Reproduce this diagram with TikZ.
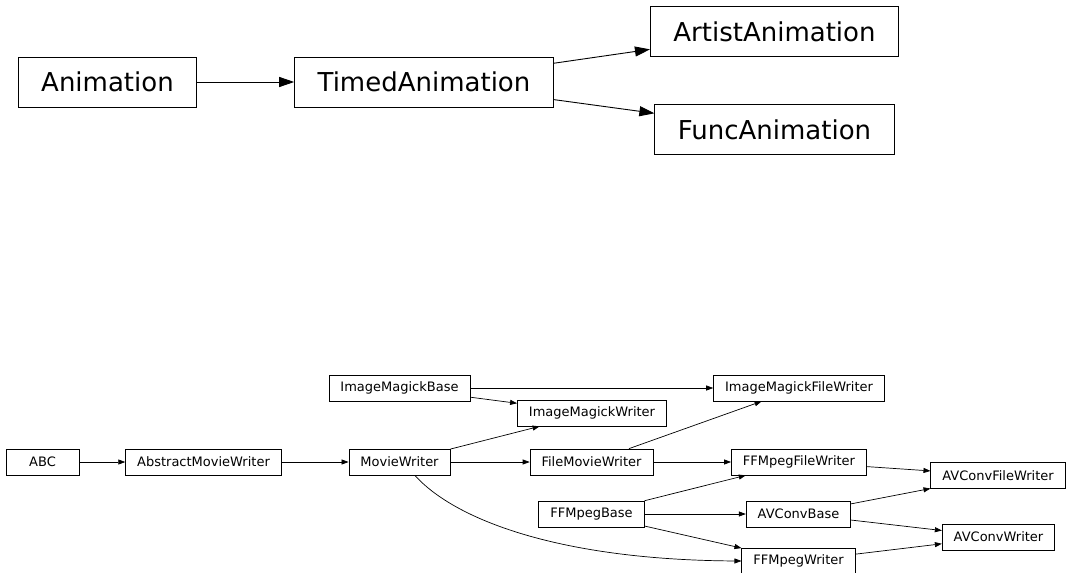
\documentclass[tikz,border=0pt]{standalone}
\usepackage{fontspec}
\setmainfont{DejaVu Sans}
\usetikzlibrary{arrows.meta}

\begin{document}
\begin{tikzpicture}[x=1pt, y=-1pt,
	bigbox/.style={draw, line width=0.9pt, font=\fontsize{26}{30}\selectfont, minimum height=50pt, inner xsep=23pt},
	smallbox/.style={draw, line width=0.7pt, font=\fontsize{13}{15}\selectfont, minimum height=26pt, minimum width=73pt, inner xsep=11.5pt},
	bigarrow/.style={-{Triangle[length=15pt,width=10pt]}, line width=0.9pt},
	smallarrow/.style={-{Triangle[length=7pt,width=5pt]}, line width=0.7pt}]
	\clip (0,0) rectangle (1066,573);

	% animation classes
	\node[bigbox] (anim) at (107.5,82) {Animation};
	\node[bigbox] (timed) at (424,82) {TimedAnimation};
	\node[bigbox] (artist) at (774.5,31.5) {ArtistAnimation};
	\node[bigbox] (func) at (774.5,129.5) {FuncAnimation};

	\draw[bigarrow] (anim) -- (timed);
	\draw[bigarrow] (timed) -- (artist);
	\draw[bigarrow] (timed) -- (func);

	% writer classes
	\node[smallbox] (abc) at (42.5,462) {ABC};
	\node[smallbox] (amw) at (203.5,462) {AbstractMovieWriter};
	\node[smallbox] (mw) at (399.5,462) {MovieWriter};
	\node[smallbox] (imb) at (399.5,388) {ImageMagickBase};
	\node[smallbox] (imw) at (592,413) {ImageMagickWriter};
	\node[smallbox] (imfw) at (799,388) {ImageMagickFileWriter};
	\node[smallbox] (fmw) at (591.5,462) {FileMovieWriter};
	\node[smallbox] (ffw) at (799,462) {FFMpegFileWriter};
	\node[smallbox] (avfw) at (998,475.5) {AVConvFileWriter};
	\node[smallbox] (ffb) at (591.5,514) {FFMpegBase};
	\node[smallbox] (avb) at (798.5,514) {AVConvBase};
	\node[smallbox] (avw) at (998.5,537) {AVConvWriter};
	\node[smallbox] (fw) at (798.5,561) {FFMpegWriter};

	\draw[smallarrow] (abc) -- (amw);
	\draw[smallarrow] (amw) -- (mw);
	\draw[smallarrow] (mw) -- (imw);
	\draw[smallarrow] (mw) -- (fmw);
	\draw[smallarrow] (mw.-41) .. controls (455,520) and (560,560) .. (fw.west);
	\draw[smallarrow] (imb) -- (imw);
	\draw[smallarrow] (imb) -- (imfw);
	\draw[smallarrow] (fmw) -- (imfw);
	\draw[smallarrow] (fmw) -- (ffw);
	\draw[smallarrow] (ffw) -- (avfw);
	\draw[smallarrow] (ffb) -- (ffw);
	\draw[smallarrow] (ffb) -- (avb);
	\draw[smallarrow] (ffb) -- (fw);
	\draw[smallarrow] (avb) -- (avfw);
	\draw[smallarrow] (avb) -- (avw);
	\draw[smallarrow] (fw) -- (avw);
\end{tikzpicture}
\end{document}
